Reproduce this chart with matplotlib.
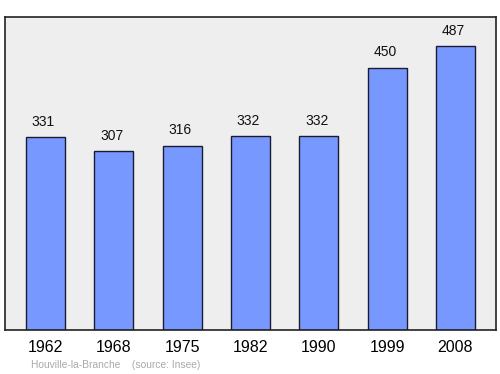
import matplotlib
matplotlib.use("Agg")
import matplotlib.pyplot as plt

years = ["1962", "1968", "1975", "1982", "1990", "1999", "2008"]
population = [331, 307, 316, 332, 332, 450, 487]
footer = "Houville-la-Branche    (source: Insee)"

plt.rcParams['font.family'] = ['Liberation Sans', 'DejaVu Sans']

fig = plt.figure(figsize=(5, 3.74), dpi=100)
ax = fig.add_axes([0.01, 1 - 330/374, 0.982, (330 - 17)/374])
ax.set_facecolor('#eeeeee')
x = range(len(years))
ax.bar(x, population, width=0.57, color='#7799ff', edgecolor='#1a1a33', linewidth=1.0, zorder=2)
for xi, v in zip(x, population):
    ax.annotate(str(v), (xi, v), xytext=(-1.5, 6), textcoords='offset points',
                ha='center', va='bottom', fontsize=10, color='#111111')
ax.set_xlim(-0.593, len(years) - 1 + 0.593)
ax.set_ylim(0, 537)
ax.set_yticks([])
ax.set_xticks(list(x))
ax.set_xticklabels(years, fontsize=11.5)
ax.tick_params(axis='x', length=0, pad=7)
for s in ax.spines.values():
    s.set_color('#222222')
    s.set_linewidth(1.2)
fig.text(31/500, 1 - 365/374, footer, fontsize=7.4, color='#aaaaaa', va='center', ha='left')
fig.savefig("out.png", dpi=100)
